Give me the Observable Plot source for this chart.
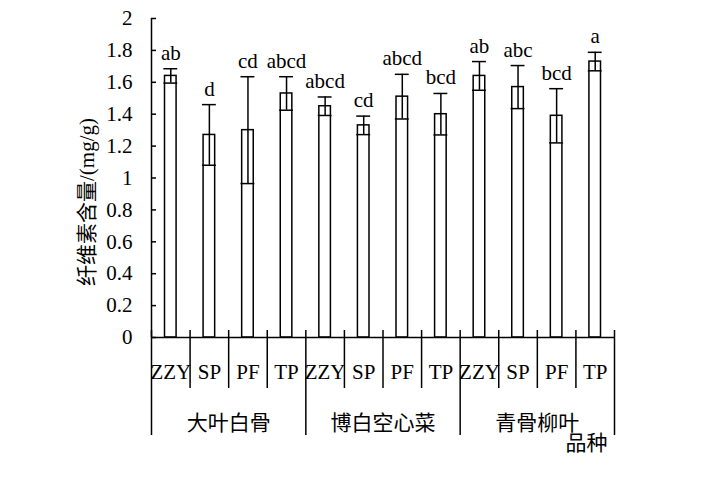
<!DOCTYPE html>
<html><head><meta charset="utf-8">
<script src="https://cdn.jsdelivr.net/npm/d3@7"></script>
<script src="https://cdn.jsdelivr.net/npm/@observablehq/plot@0.6"></script>
<style>body{margin:0;background:#fff}</style>
</head><body><div id="chart"></div>
<script>
const groups = ["大叶白骨", "博白空心菜", "青骨柳叶"];
const treatments = ["ZZY", "SP", "PF", "TP"];
const means = [1.64, 1.27, 1.30, 1.53, 1.45, 1.33, 1.51, 1.40, 1.64, 1.57, 1.39, 1.73];
const errs = [0.045, 0.19, 0.335, 0.105, 0.058, 0.058, 0.14, 0.13, 0.09, 0.135, 0.17, 0.058];
const letters = ["ab", "d", "cd", "abcd", "abcd", "cd", "abcd", "bcd", "ab", "abc", "bcd", "a"];
const yTicks = [0, 0.2, 0.4, 0.6, 0.8, 1, 1.2, 1.4, 1.6, 1.8, 2];
const yTitle = "纤维素含量/(mg/g)";
const xTitle = "品种";

const rows = means.map((m, i) => ({
  i, group: groups[Math.floor(i / treatments.length)], treatment: treatments[i % treatments.length],
  mean: m, lo: m - errs[i], hi: m + errs[i], letter: letters[i]
}));
const n = rows.length;
const bounds = d3.range(n + 1);
const groupBounds = bounds.filter(b => b % treatments.length === 0);
const catBounds = bounds.filter(b => b % treatments.length !== 0);
const groupRows = groups.map((g, k) => ({g, c: k * treatments.length + treatments.length / 2}));

const font = "'Liberation Serif','Times New Roman','Noto Sans CJK SC',serif";
const cjk = "'Noto Sans CJK SC',sans-serif";
const fs = 21;
const sw = 1.5;

const chart = Plot.plot({
  width: 709, height: 485,
  marginLeft: 151, marginRight: 95, marginTop: 18, marginBottom: 148,
  style: {fontFamily: font, fontSize: fs + "px", color: "black", background: "white"},
  x: {domain: [0, n], axis: null},
  y: {domain: [0, 2], axis: null},
  marks: [
    Plot.axisY({ticks: yTicks, tickSize: 0, tickPadding: 19, tickFormat: d => String(+d.toFixed(1)), fontSize: fs, label: null}),
    Plot.ruleY(yTicks, {y: d => d, x1: 0, x2: 0, insetRight: -5, stroke: "black", strokeWidth: sw}),
    Plot.ruleX([0], {x: d => d, y1: 0, y2: 2, stroke: "black", strokeWidth: sw}),
    Plot.rectY(rows, {x1: d => d.i + 0.35, x2: d => d.i + 0.65, y1: 0, y2: "mean", fill: "white", stroke: "black", strokeWidth: sw}),
    Plot.ruleX(rows, {x: d => d.i + 0.5, y1: "lo", y2: "hi", stroke: "black", strokeWidth: sw}),
    Plot.ruleY(rows, {y: "hi", x1: d => d.i + 0.5 - 0.18, x2: d => d.i + 0.5 + 0.18, stroke: "black", strokeWidth: sw}),
    Plot.ruleY(rows, {y: "lo", x1: d => d.i + 0.5 - 0.18, x2: d => d.i + 0.5 + 0.18, stroke: "black", strokeWidth: sw}),
    Plot.text(rows, {x: d => d.i + 0.5, y: "hi", text: "letter", dy: -9, lineAnchor: "bottom", fontSize: fs, fill: "black"}),
    Plot.ruleY([0], {y: d => d, stroke: "black", strokeWidth: sw}),
    Plot.ruleX(catBounds, {x: d => d, y1: 0, y2: 0, insetTop: -7, insetBottom: -51, stroke: "black", strokeWidth: sw}),
    Plot.ruleX(groupBounds, {x: d => d, y1: 0, y2: 0, insetTop: -7, insetBottom: -98, stroke: "black", strokeWidth: sw}),
    Plot.text(rows, {x: d => d.i + 0.5, frameAnchor: "bottom", dy: 35, text: "treatment", lineAnchor: "middle", fontSize: fs, fill: "black"}),
    Plot.text(groupRows, {x: "c", frameAnchor: "bottom", dy: 86, text: "g", lineAnchor: "middle", fontSize: fs, fontFamily: cjk, fill: "black"}),
    Plot.text([xTitle], {frameAnchor: "bottom-right", dx: -28, dy: 106, text: d => d, textAnchor: "middle", lineAnchor: "middle", fontSize: fs, fontFamily: cjk, fill: "black"}),
    Plot.text([yTitle], {frameAnchor: "left", dx: -64, dy: 24, rotate: -90, text: d => d, textAnchor: "middle", lineAnchor: "middle", fontSize: fs, fill: "black"})
  ]
});
document.getElementById("chart").appendChild(chart);
</script>
</body></html>
